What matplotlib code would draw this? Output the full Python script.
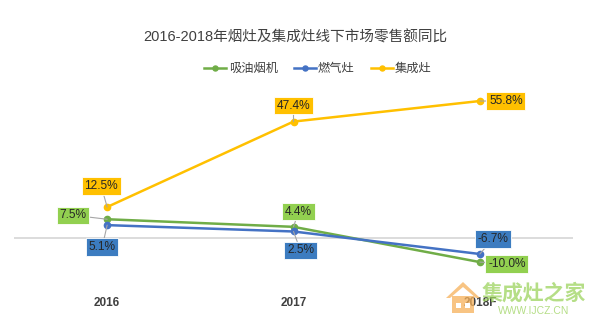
import matplotlib
matplotlib.use("Agg")
import matplotlib.pyplot as plt
from matplotlib.patches import Polygon, Rectangle

plt.rcParams['font.family'] = ['Liberation Sans', 'Noto Sans CJK SC', 'DejaVu Sans']

# ---- data ----
title = '2016-2018年烟灶及集成灶线下市场零售额同比'
years = ['2016', '2017', '2018F']
series_names = ['吸油烟机', '燃气灶', '集成灶']
hood = [7.5, 4.4, -10.0]
stove = [5.1, 2.5, -6.7]
integrated = [12.5, 47.4, 55.8]

# ---- styles / layout ----
line_colors = ['#70AD47', '#4472C4', '#FFC000']
box_colors = ['#92D050', '#3C7CC0', '#FFC000']
label_offsets = [
    [(-34, 4), (5, 15), (27, -2)],
    [(-5, -22), (7, -19), (13, 15)],
    [(-6, 21), (0, 16), (26, 0)],
]

W, H = 600, 326
fig = plt.figure(figsize=(W / 100, H / 100), dpi=100)

ax_left, ax_right, ax_top, ax_bot = 14, 573, 90, 285
ax = fig.add_axes([ax_left / W, (H - ax_bot) / H, (ax_right - ax_left) / W, (ax_bot - ax_top) / H])
ax.set_xlim(-0.5, len(years) - 0.5)
ax.set_ylim(-19.36, 60.3)
ax.axhline(0, color='#D9D9D9', lw=1.3, zorder=1)
for s in ax.spines.values():
    s.set_visible(False)
ax.set_yticks([])
x = list(range(len(years)))
ax.set_xticks(x)
ax.set_xticklabels(years, fontsize=8.5, fontweight='bold', color='#404040')
ax.tick_params(axis='x', length=0, pad=9)

all_series = [hood, stove, integrated]
handles = []
for vals, name, lc, bc, offs in zip(all_series, series_names, line_colors, box_colors, label_offsets):
    h, = ax.plot(x, vals, color=lc, lw=1.8, marker='o', markersize=4.5, label=name, zorder=3)
    handles.append(h)
    for xi, v, off in zip(x, vals, offs):
        ax.annotate(f'{v:.1f}%', xy=(xi, v), xytext=off, textcoords='offset pixels',
                    ha='center', va='center', fontsize=8.6, color='#262626',
                    bbox=dict(boxstyle='square,pad=0.22', fc=bc, ec='white', lw=0.6),
                    arrowprops=dict(arrowstyle='-', color='#A6A6A6', lw=0.8,
                                    shrinkA=0, shrinkB=0),
                    zorder=4)

fig.text(295 / W, 1 - 37 / H, title, ha='center', va='center', fontsize=10.5, color='#404040')

fig.legend(handles=handles, labels=series_names, loc='center', bbox_to_anchor=(318 / W, 1 - 69 / H),
           ncol=3, frameon=False, fontsize=8.8, handlelength=1.8, handletextpad=0.2,
           columnspacing=1.3, labelcolor='#404040', markerscale=0.8)

# ---- watermark ----
ov = fig.add_axes([0, 0, 1, 1], zorder=10)
ov.set_xlim(0, W)
ov.set_ylim(H, 0)
ov.axis('off')
orange = '#F6B15A'
ov.add_patch(Polygon([(446, 298), (463, 282), (480, 298), (476, 298), (463, 287), (450, 298)],
                     closed=True, fc=orange, ec='none', alpha=0.75))
ov.add_patch(Rectangle((452, 296), 22, 17, fc=orange, ec='none', alpha=0.75))
ov.add_patch(Rectangle((456, 303), 5, 5, fc='white', ec='none'))
ov.add_patch(Rectangle((465, 303), 5, 5, fc='white', ec='none'))
ov.text(534, 293, '集成灶之家', ha='center', va='center', fontsize=15, color='#9CD35E',
        fontweight='bold', alpha=0.75)
ov.text(534, 311, 'WWW.IJCZ.CN', ha='center', va='center', fontsize=7.5, color='#9CD35E', alpha=0.75)

fig.savefig('out.png', dpi=100, facecolor='white')
